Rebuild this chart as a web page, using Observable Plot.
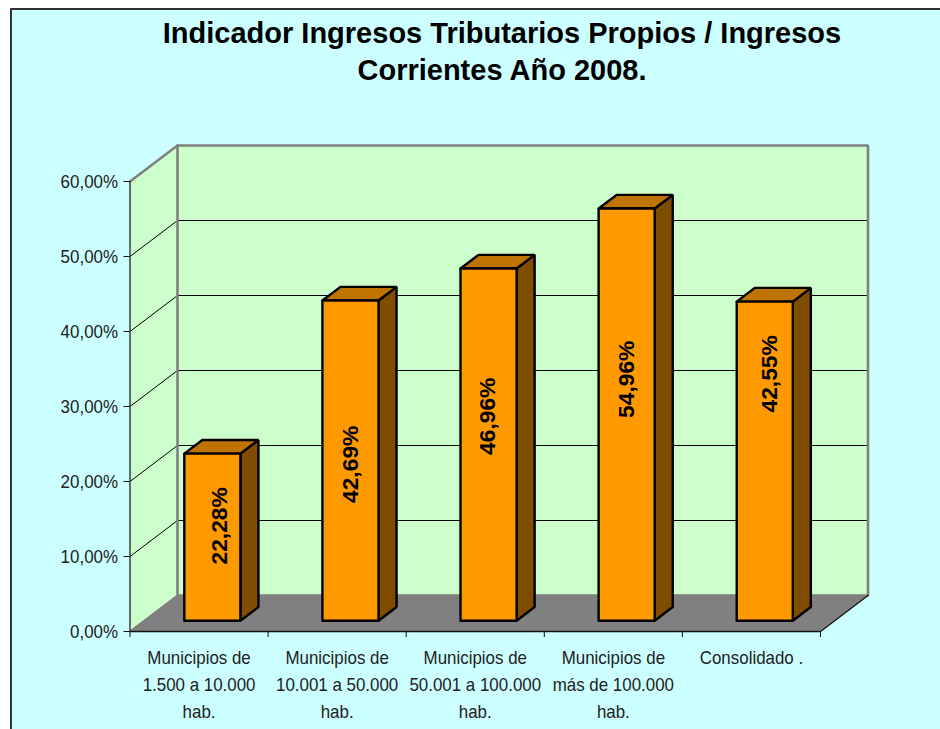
<!DOCTYPE html>
<html lang="es">
<head>
<meta charset="utf-8">
<script src="https://cdn.jsdelivr.net/npm/d3@7"></script>
<script src="https://cdn.jsdelivr.net/npm/@observablehq/plot@0.6"></script>
<style>
html,body{margin:0;padding:0;background:#fff;overflow:hidden;width:940px;height:729px;}
#panel{position:absolute;left:10px;top:8px;width:960px;height:760px;background:#CCFFFF;border:2px solid #333;box-sizing:border-box;}
#title{position:absolute;left:64px;top:15px;width:876px;margin:0;text-align:center;font:bold 29px/37px "Liberation Sans",Arial,sans-serif;color:#000;}
#chart{position:absolute;left:0;top:0;}
#chart svg{background:transparent;overflow:visible;display:block;}
</style>
</head>
<body>
<div id="panel"></div>
<h1 id="title">Indicador Ingresos Tributarios Propios / Ingresos<br>Corrientes Año 2008.</h1>
<div id="chart"></div>
<script>
const categories = [
  "Municipios de\n1.500 a 10.000\nhab.",
  "Municipios de\n10.001 a 50.000\nhab.",
  "Municipios de\n50.001 a 100.000\nhab.",
  "Municipios de\nmás de 100.000\nhab.",
  "Consolidado ."
];
const values = [22.28, 42.69, 46.96, 54.96, 42.55];
const yTicks = [0, 10, 20, 30, 40, 50, 60];
const xEdges = [0, 1, 2, 3, 4, 5];

// Oblique projection: how far one full unit of chart depth moves a point, in data units.
const depthX = 0.344, depthY = 4.8;
const barFront = 0.28, barBack = 0.66, barHalf = 0.203;
const xMax = 5, yMax = 60;
const P = (x, y, d = 0) => ({x: x + d * depthX, y: y + d * depthY});

const fmt = v => v.toFixed(2).replace(".", ",") + "%";

const poly = (pts) => [...pts, pts[0]];
const line = (pts, o) => Plot.line(pts, {x: "x", y: "y", curve: "linear", ...o});

const backWall = poly([P(0,0,1), P(xMax,0,1), P(xMax,yMax,1), P(0,yMax,1)]);
const sideWall = poly([P(0,0,0), P(0,0,1), P(0,yMax,1), P(0,yMax,0)]);
const floor = poly([P(0,0,0), P(xMax,0,0), P(xMax,0,1), P(0,0,1)]);
const grid = yTicks.slice(1, -1);

const barFace = (face) => values.flatMap((v, i) => {
  const c = i + 0.5, l = c - barHalf, r = c + barHalf;
  const pts = {
    front: [P(l,0,barFront), P(r,0,barFront), P(r,v,barFront), P(l,v,barFront)],
    side:  [P(r,0,barFront), P(r,0,barBack), P(r,v,barBack), P(r,v,barFront)],
    top:   [P(l,v,barFront), P(r,v,barFront), P(r,v,barBack), P(l,v,barBack)]
  }[face];
  return poly(pts).map(p => ({...p, z: i}));
});

const barStroke = {stroke: "#000", strokeWidth: 2.4, strokeLinejoin: "miter", z: "z", dy: -0.7};

// Hand-placed value labels: nudges in pixels relative to each front face's centre.
const labelNudge = [[7.5, -12], [0.5, 3], [-1, -29], [0, -36], [4.5, -88]];
const labelMarks = values.map((v, i) => {
  const p = P(i + 0.5, v / 2, barFront);
  return Plot.text([{...p, t: fmt(v)}], {
    x: "x", y: "y", text: "t", rotate: -90,
    dx: labelNudge[i][0], dy: labelNudge[i][1],
    fontWeight: "bold", fontSize: 22.8, fill: "#000"
  });
});

const chart = Plot.plot({
  width: 940, height: 729,
  marginLeft: 129.5, marginRight: 120, marginTop: 181, marginBottom: 98,
  style: {fontFamily: '"Liberation Sans", Arial, sans-serif', background: "transparent"},
  x: {domain: [0, xMax], label: null},
  y: {domain: [0, yMax], label: null},
  marks: [
    line(sideWall, {fill: "#CCFFCC"}),
    line(backWall, {fill: "#CCFFCC"}),
    line(floor, {fill: "#808080", stroke: "#808080", strokeWidth: 1, dy: -0.7}),
    Plot.link(grid, {x1: 0, y1: d => d, x2: depthX, y2: d => d + depthY, stroke: "#000", strokeWidth: 1}),
    Plot.link(grid, {x1: depthX, y1: d => d + depthY, x2: xMax + depthX, y2: d => d + depthY, stroke: "#000", strokeWidth: 1}),
    line([P(0,yMax,0), P(0,yMax,1), P(xMax,yMax,1), P(xMax,0,1)], {stroke: "#808080", strokeWidth: 2.6, strokeLinejoin: "miter"}),
    line([P(0,0,1), P(0,yMax,1)], {stroke: "#808080", strokeWidth: 2.6}),
    line([P(0,0,0), P(0,yMax,0)], {stroke: "#222", strokeWidth: 1.3}),
    line([P(0,0,0), P(xMax,0,0), P(xMax,0,1)], {stroke: "#111", strokeWidth: 1.3}),
    line(barFace("side"), {fill: "#804D00", ...barStroke}),
    line(barFace("top"), {fill: "#BF7300", ...barStroke}),
    line(barFace("front"), {fill: "#FF9900", ...barStroke}),
    ...labelMarks,
    Plot.axisY({ticks: yTicks, tickFormat: fmt, tickSize: 6, tickPadding: 6, fontSize: 19, stroke: "#111", fill: "#222", label: null, className: "condensed"}),
    Plot.axisX({ticks: xEdges, tickFormat: () => "", tickSize: 6, stroke: "#111", label: null}),
    Plot.axisX(d3.range(categories.length).map(i => i + 0.5), {
      tickSize: 0, tickPadding: 13, tickFormat: d => categories[d - 0.5],
      fontSize: 19, lineHeight: 1.42, fill: "#222", label: null, className: "condensed"
    })
  ]
});
document.getElementById("chart").appendChild(chart);

// The reference's axis text is tall and narrow: condense it horizontally, keeping it real text.
const condense = 0.89;
chart.querySelectorAll("text").forEach(t => {
  if (!t.closest(".condensed") && !t.parentNode.classList.contains("condensed")) return;
  const spans = t.querySelectorAll("tspan");
  (spans.length ? [...spans] : [t]).forEach(el => {
    const w = el.getComputedTextLength();
    if (w > 0) {
      el.setAttribute("textLength", (w * condense).toFixed(1));
      el.setAttribute("lengthAdjust", "spacingAndGlyphs");
    }
  });
});
</script>
</body>
</html>
